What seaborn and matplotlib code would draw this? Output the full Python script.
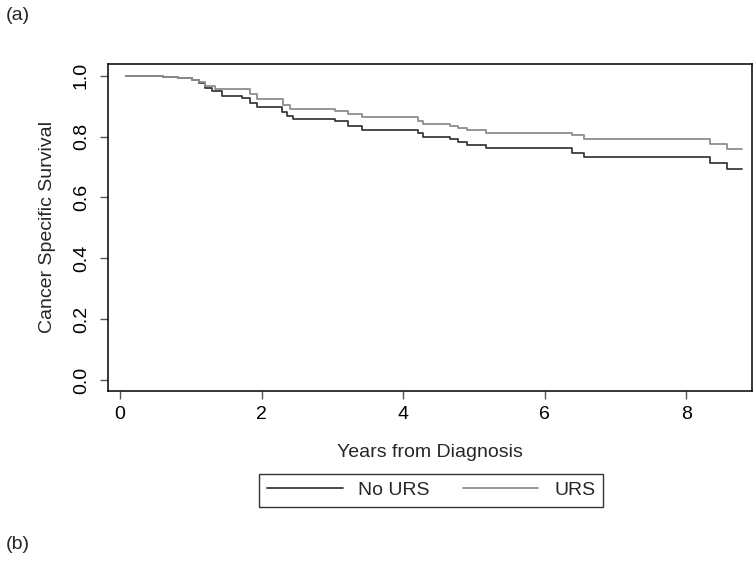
import matplotlib
matplotlib.use("Agg")
import matplotlib.pyplot as plt
import seaborn as sns
import pandas as pd

# Kaplan-Meier step values (time in years, survival)
no_urs_time = [0.08, 0.61, 0.82, 1.02, 1.12, 1.20, 1.30, 1.44, 1.72, 1.84, 1.93,
               2.29, 2.36, 2.44, 3.04, 3.22, 3.42, 4.21, 4.28, 4.66, 4.78, 4.90,
               5.17, 6.39, 6.56, 8.34, 8.58, 8.79]
no_urs_surv = [1.000, 0.997, 0.993, 0.987, 0.975, 0.960, 0.950, 0.934, 0.928, 0.911, 0.898,
               0.882, 0.868, 0.859, 0.852, 0.836, 0.822, 0.812, 0.799, 0.793, 0.783, 0.773,
               0.763, 0.747, 0.734, 0.714, 0.694, 0.694]

urs_time = [0.08, 0.61, 0.82, 1.02, 1.12, 1.20, 1.34, 1.84, 1.93, 2.30, 2.40,
            3.04, 3.22, 3.42, 4.21, 4.28, 4.66, 4.78, 4.90, 5.17, 6.39, 6.56,
            8.34, 8.58, 8.79]
urs_surv = [1.000, 0.997, 0.993, 0.987, 0.978, 0.967, 0.957, 0.941, 0.924, 0.905, 0.891,
            0.885, 0.875, 0.865, 0.852, 0.842, 0.836, 0.829, 0.822, 0.812, 0.806, 0.793,
            0.776, 0.760, 0.760]

groups = ["No URS", "URS"]
colors = {"No URS": "#3c3c3c", "URS": "#8e8e8e"}

df = pd.concat([
    pd.DataFrame({"time": no_urs_time, "surv": no_urs_surv, "group": "No URS"}),
    pd.DataFrame({"time": urs_time, "surv": urs_surv, "group": "URS"}),
])

sns.set_style("white")
plt.rcParams["font.family"] = ["Liberation Sans", "DejaVu Sans"]
fs = 14

fig = plt.figure(figsize=(7.56, 5.70), dpi=100)
ax = fig.add_axes([0.1429, 0.314, 0.852, 0.574])

sns.lineplot(data=df, x="time", y="surv", hue="group", hue_order=groups,
             palette=colors, drawstyle="steps-post", estimator=None,
             linewidth=1.3, ax=ax, legend=False)

ax.set_xlim(-0.17, 8.93)
ax.set_ylim(-0.036, 1.039)
ax.set_xticks([0, 2, 4, 6, 8])
ax.set_yticks([0.0, 0.2, 0.4, 0.6, 0.8, 1.0])
ax.set_yticklabels(["0.0", "0.2", "0.4", "0.6", "0.8", "1.0"], rotation=90, va="center")
ax.tick_params(axis="both", direction="out", length=6, width=1, color="#555555",
               labelsize=fs, labelcolor="black", bottom=True, left=True)
ax.tick_params(axis="x", pad=5)
ax.tick_params(axis="y", pad=7)
for s in ax.spines.values():
    s.set_color("black")
    s.set_linewidth(1.1)

ax.set_xlabel("Years from Diagnosis", fontsize=fs, labelpad=15)
ax.set_ylabel("Cancer Specific Survival", fontsize=fs, labelpad=12)

handles = [plt.Line2D([], [], color=colors[g], linewidth=1.3) for g in groups]
leg = fig.legend(handles, groups, loc="center", bbox_to_anchor=(0.570, 0.1395),
                 ncol=2, fontsize=fs, frameon=True, fancybox=False,
                 handlelength=3.9, handletextpad=0.8, columnspacing=1.7,
                 borderpad=0.4, borderaxespad=0)
leg.get_frame().set_edgecolor("black")
leg.get_frame().set_linewidth(1.0)

fig.text(0.007, 0.972, "(a)", fontsize=fs, va="center", ha="left")
fig.text(0.007, 0.044, "(b)", fontsize=fs, va="center", ha="left")

fig.savefig("out.png", dpi=100)
